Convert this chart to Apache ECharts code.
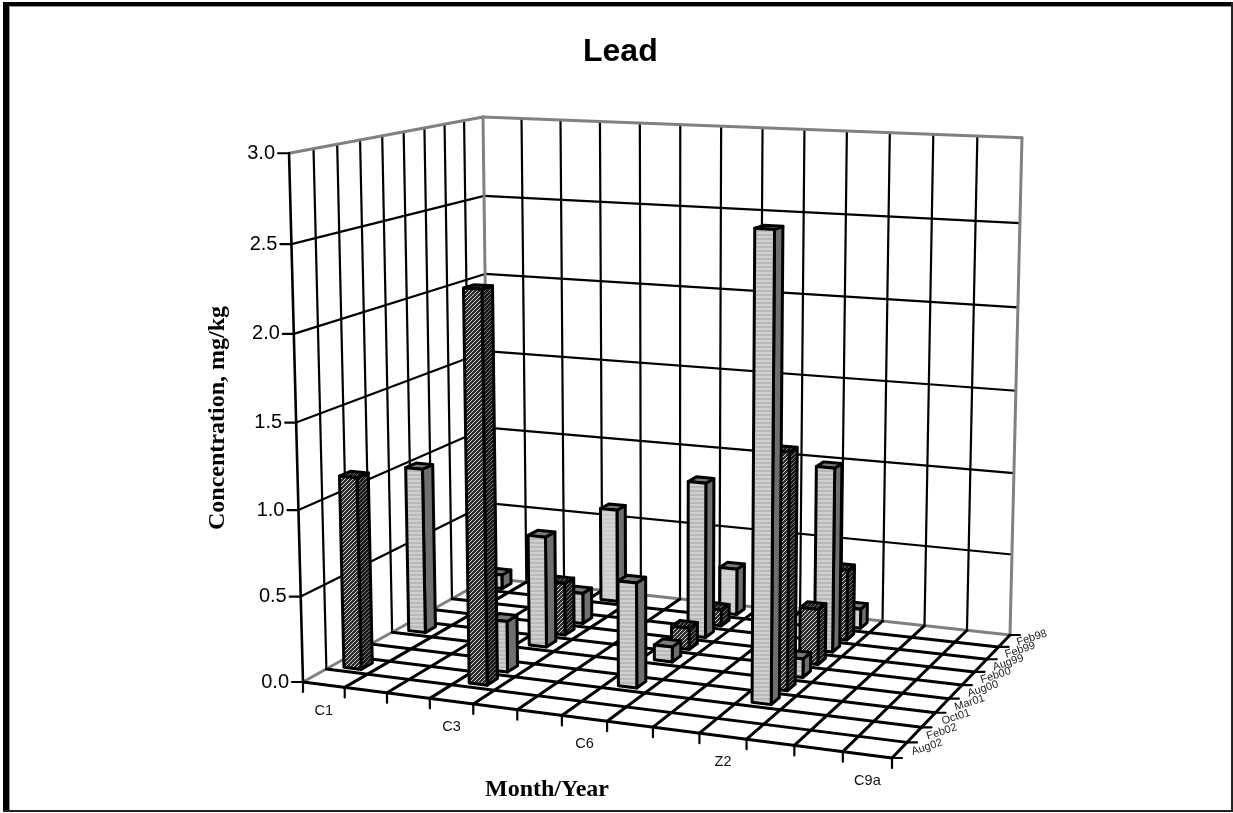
<!DOCTYPE html>
<html><head><meta charset="utf-8"><style>html,body{margin:0;background:#fff}#c{width:1233px;height:813px}</style>
<script src="https://cdn.jsdelivr.net/npm/echarts@6/dist/echarts.min.js"></script></head>
<body><div id="c"></div><script>
// ---- data ----
const categories=['C1','','','C3','','','C6','','','Z2','','','C9a'];
const months=['Feb98','Feb99','Aug99','Feb00','Aug00','Mar01','Oct01','Feb02','Aug02'];
const yTicks=[0,0.5,1,1.5,2,2.5,3];
const Feb98=[0.09,null,null,0.59,null,null,0.29,null,null,0.12,null,null,null];
const Feb99=[null,null,null,null,null,null,0.10,null,null,0.43,null,null,null];
const Aug99=[null,null,null,0.19,null,null,0.95,null,null,1.11,null,null,null];
const Feb00=[null,null,null,0.32,null,null,0.13,null,null,0.33,null,null,null];
const Aug00=[1.01,null,null,0.67,null,null,0.09,null,null,0.11,null,null,null];
const Mar01=[null,null,null,null,null,null,null,null,null,1.37,null,null,null];
const Oct01=[null,null,null,0.30,null,null,0.61,null,null,2.64,null,null,null];
const Feb02=[1.13,null,null,2.26,null,null,null,null,null,null,null,null,null];
const Aug02=[null,null,null,null,null,null,null,null,null,null,null,null,null];
const monthValues=[Feb98,Feb99,Aug99,Feb00,Aug00,Mar01,Oct01,Feb02,Aug02];

// ---- perspective camera: box corners on the page ----
const FL=[303,682],FR=[892,758],BR=[1010,635],BL=[489,578],TFL=[289,153],TBL=[483,118],TBR=[1022,137];
function solve(A,b){const n=A.length;A=A.map((r,i)=>[...r,b[i]]);for(let i=0;i<n;i++){let p=i;for(let k=i;k<n;k++)if(Math.abs(A[k][i])>Math.abs(A[p][i]))p=k;[A[i],A[p]]=[A[p],A[i]];for(let k=0;k<n;k++)if(k!=i){const f=A[k][i]/A[i][i];for(let j=i;j<=n;j++)A[k][j]-=f*A[i][j];}}return A.map((r,i)=>r[n]/r[i]);}
const H=(()=>{const [x0,y0]=FL,[x1,y1]=FR,[x2,y2]=BR,[x3,y3]=BL;
const dx1=x1-x2,dx2=x3-x2,sx=x0-x1+x2-x3,dy1=y1-y2,dy2=y3-y2,sy=y0-y1+y2-y3;
const d=dx1*dy2-dx2*dy1,g=(sx*dy2-dx2*sy)/d,h=(dx1*sy-sx*dy1)/d;
return [[x1-x0+g*x1,x3-x0+h*x3,x0],[y1-y0+g*y1,y3-y0+h*y3,y0],[g,h,1]];})();
const floorH=(x,z)=>H.map(r=>r[0]*x+r[1]*z+r[2]);
const V=(()=>{const eq=[],rhs=[];[[0,0,TFL],[0,1,TBL],[1,1,TBR]].forEach(([x,z,[X,Y]])=>{const b=floorH(x,z);eq.push([1,0,-X]);rhs.push(X*b[2]-b[0]);eq.push([0,1,-Y]);rhs.push(Y*b[2]-b[1]);});
const A=[0,1,2].map(i=>[0,1,2].map(j=>eq.reduce((s,r)=>s+r[i]*r[j],0)));const B=[0,1,2].map(i=>eq.reduce((s,r,k)=>s+r[i]*rhs[k],0));return solve(A,B);})();
function P(x,z,y){const b=floorH(x,z),w=b[2]+V[2]*y;return [(b[0]+V[0]*y)/w,(b[1]+V[1]*y)/w];}

// ---- fill patterns ----
function tile(w,h,draw){const c=document.createElement('canvas');c.width=w;c.height=h;draw(c.getContext('2d'));return {image:c,repeat:'repeat'};}
const hatch=(bg,fg)=>tile(4,4,g=>{g.fillStyle=bg;g.fillRect(0,0,4,4);g.fillStyle=fg;[[0,3],[1,2],[2,1],[3,0]].forEach(([a,b])=>g.fillRect(a,b,1,1));});
const stripes=(a,b)=>tile(4,4,g=>{g.fillStyle=a;g.fillRect(0,0,4,4);g.fillStyle=b;g.fillRect(0,2,4,2);});
const light={front:stripes('#cfcfcf','#b9b9b9'),side:'#6f6f6f',top:'#7a7a7a'};
const palest={front:stripes('#d4d4d4','#cbcbcb'),side:'#6f6f6f',top:'#7a7a7a'};
const dark={front:hatch('#2e2e2e','#cfcfcf'),side:hatch('#1a1a1a','#777'),top:hatch('#1a1a1a','#777')};
const rowStyle=[palest,dark,light,dark,light,dark,light,dark,light];

const BAR_W=0.42,BAR_D=0.5,nc=categories.length,nr=months.length;
function norm(api,params,cat,val){const c=api.coord([cat,val]),r=params.coordSys;return [(c[0]-r.x)/r.width,(r.y+r.height-c[1])/r.height];}
const face=(pts,fill)=>({type:'polygon',shape:{points:pts},style:{fill,stroke:'#000',lineWidth:3,lineJoin:'round'}});
function renderBar(row){return (params,api)=>{
  const [u,h]=norm(api,params,api.value(0),api.value(1));
  const x0=u-BAR_W/2/nc,x1=u+BAR_W/2/nc,zc=1-(row+0.5)/nr,z0=zc-BAR_D/2/nr,z1=zc+BAR_D/2/nr,s=rowStyle[row];
  return {type:'group',children:[
    face([P(x1,z0,0),P(x1,z1,0),P(x1,z1,h),P(x1,z0,h)],s.side),
    face([P(x0,z0,h),P(x1,z0,h),P(x1,z1,h),P(x0,z1,h)],s.top),
    face([P(x0,z0,0),P(x1,z0,0),P(x1,z0,h),P(x0,z0,h)],s.front)]};
};}

const line=(a,b,stroke,w)=>({type:'line',shape:{x1:a[0],y1:a[1],x2:b[0],y2:b[1]},style:{stroke,lineWidth:w,lineCap:'round'}});
const text=(t,x,y,font,fill,rot,align)=>({type:'text',x,y,rotation:rot||0,style:{text:t,font,fill:fill||'#000',align:align||'center',verticalAlign:'middle'}});
const SANS='"Liberation Sans",Arial,sans-serif',SERIF='"Liberation Serif","Times New Roman",serif';
function renderBox(params,api){
  const ch=[],GREY='#808080',W=2.2,F=3;
  yTicks.forEach(t=>{ if(t===0||t===3)return; const y=norm(api,params,0,t)[1];
    ch.push(line(P(0,0,y),P(0,1,y),'#000',W),line(P(0,1,y),P(1,1,y),'#000',W));});
  for(let i=1;i<nr;i++){const z=i/nr;ch.push(line(P(0,z,0),P(0,z,1),'#000',W));}
  for(let j=1;j<nc;j++){const x=j/nc;ch.push(line(P(x,1,0),P(x,1,1),'#000',W));}
  ch.push(line(P(0,1,0),P(0,1,1),GREY,3),line(P(1,1,0),P(1,1,1),GREY,3),line(P(0,0,1),P(0,1,1),GREY,3),line(P(0,1,1),P(1,1,1),GREY,3),line(P(0,0,0),P(0,1,0),GREY,3),line(P(0,1,0),P(1,1,0),GREY,3));
  for(let i=0;i<nr;i++){const z=1-i/nr;if(i>0)ch.push(line(P(0,z,0),P(1,z,0),'#000',F));}
  ch.push(line(P(0,0,0),P(1,0,0),'#000',F));
  for(let j=0;j<=nc;j++){const x=j/nc;if(j>0)ch.push(line(P(x,0,0),P(x,1,0),'#000',F));
    const p=P(x,0,0);ch.push(line(p,[p[0],p[1]+10],'#000',W));}
  ch.push(line(P(0,0,0),P(0,0,1),'#000',W+0.4));
  yTicks.forEach(t=>{const p=P(0,0,norm(api,params,0,t)[1]);ch.push(line(p,[p[0]-11,p[1]],'#000',W));
    ch.push(text(t.toFixed(1),p[0]-14,p[1],'20px '+SANS,'#000',0,'right'));});
  for(let i=0;i<=nr;i++){const p=P(1,1-i/nr,0);ch.push(line(p,[p[0]+10,p[1]],'#000',W));}
  months.forEach((m,i)=>{const a=P(1,1-i/nr,0),b=P(1,1-(i+1)/nr,0);
    ch.push(text(m,(a[0]+b[0])/2+27.5,(a[1]+b[1])/2-3,'11px '+SANS,'#222',18*Math.PI/180));});
  categories.forEach((c,j)=>{if(!c)return;const a=P(j/nc,0,0),b=P((j+1)/nc,0,0);
    ch.push(text(c,(a[0]+b[0])/2,(a[1]+b[1])/2+26,'14.5px '+SANS,'#111'));});
  ch.push(text('Concentration, mg/kg',218,418,'bold 24px '+SERIF,'#000',Math.PI/2));
  ch.push(text('Month/Year',547,790,'bold 24px '+SERIF,'#000'));
  return {type:'group',children:ch};
}

const series=[{type:'custom',name:'box',renderItem:renderBox,data:[[0,0]],encode:{x:0,y:1},silent:true,z:2}];
months.forEach((m,row)=>{const data=[];monthValues[row].forEach((v,i)=>{if(v!==null)data.push([i,v]);});
  series.push({type:'custom',name:m,renderItem:renderBar(row),data,encode:{x:0,y:1},silent:true,z:3+row});});

const chart=echarts.init(document.getElementById('c'),null,{renderer:'canvas'});
chart.setOption({animation:false,backgroundColor:'#fff',
  title:{text:'Lead',left:583,top:36,textStyle:{fontFamily:SANS,fontWeight:'bold',fontSize:32,color:'#000'},padding:0},
  tooltip:{show:false},
  grid:{left:100,top:100,width:1000,height:600,show:false},
  xAxis:{type:'category',data:categories.map((c,i)=>c||('·'+i)),show:false},
  yAxis:{type:'value',min:0,max:3,interval:0.5,show:false},
  series,
  graphic:[
    {type:'rect',shape:{x:3,y:2,width:1230,height:4},style:{fill:'#000'},silent:true},
    {type:'rect',shape:{x:3,y:2,width:6,height:810},style:{fill:'#000'},silent:true},
    {type:'rect',shape:{x:9,y:6,width:1,height:804},style:{fill:'#999'},silent:true},
    {type:'rect',shape:{x:9,y:6,width:1222,height:1},style:{fill:'#999'},silent:true},
    {type:'rect',shape:{x:1231,y:2,width:2,height:810},style:{fill:'#222'},silent:true},
    {type:'rect',shape:{x:3,y:810,width:1230,height:2},style:{fill:'#222'},silent:true}
  ]});
</script></body></html>
